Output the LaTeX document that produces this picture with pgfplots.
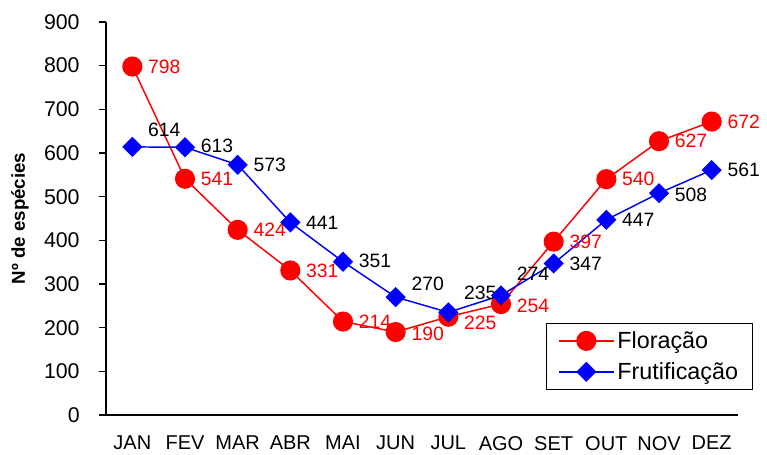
\documentclass[border=0pt]{standalone}
\usepackage{pgfplots}
\usepackage{pgfplotstable}
\usepackage{fontspec}
\setmainfont{Liberation Sans}
\pgfplotsset{compat=1.18}

% x: month index, flor/frut: counts, dflor/dfrut: label nudge (pt)
\pgfplotstableread{
x  flor dflor frut dfrut
1  798  0     614  12.5
2  541  0     613  1
3  424  0     573  0
4  331  0     441  0
5  214  0     351  1
6  190  -1    270  10
7  225  -4.5  235  15
8  254  -1    274  16
9  397  0     347  0
10 540  0     447  0
11 627  0     508  -1
12 672  0     561  0
}\dados

\begin{document}
\begin{tikzpicture}
\begin{axis}[
    name=ax,
    scale only axis,
    width=474pt, height=294.75pt,
    xmin=0.5, xmax=12.5,
    ymin=0, ymax=900,
    ytick={0,100,...,900},
    xtick={1,...,12},
    xticklabels={JAN,FEV,MAR,ABR,MAI,JUN,JUL,AGO,SET,OUT,NOV,DEZ},
    minor xtick={0.5,1.5,...,12.5},
    axis x line*=bottom,
    axis y line*=left,
    axis line style={line width=0.8pt},
    tick align=outside,
    x tick style={draw=none},
    minor x tick style={black, line width=0.8pt},
    minor tick length=4.5pt,
    y tick style={black, line width=0.8pt},
    major tick length=5.25pt,
    /pgf/number format/assume math mode=true,
    yticklabel style={font=\fontsize{16}{18}\selectfont, anchor=east, xshift=-11pt},
    xticklabel style={font=\fontsize{15}{18}\selectfont, yshift=-7pt},
    ylabel={\textbf{Nº de espécies}},
    ylabel style={font=\fontsize{14}{16}\selectfont,
        at={(axis description cs:0,0.5)}, anchor=center, yshift=64.5pt},
    clip=false,
    legend style={
        at={(0.696,0.234)}, anchor=north west,
        draw=black, line width=0.6pt,
        font=\fontsize{17.5}{20}\selectfont,
        inner xsep=9pt, inner ysep=4pt,
        row sep=5pt,
        legend cell align=left,
    },
    legend image code/.code={
        \draw[mark repeat=2, mark phase=2] plot coordinates {(0cm,0cm) (0.72cm,0cm) (1.45cm,0cm)};
    },
]

\addplot[
    red, line width=1.1pt,
    mark=*, mark size=7pt, mark options={solid, fill=red},
    nodes near coords,
    visualization depends on={\thisrow{dflor} \as \dy},
    every node near coord/.append style={
        anchor=west, xshift=8pt, yshift=\dy pt, text=red,
        font=\fontsize{14.5}{16}\selectfont},
] table[x=x, y=flor] {\dados};
\addlegendentry{Floração}

\addplot[
    blue, line width=1.1pt,
    mark=square*, mark size=4.8pt, mark options={solid, fill=blue, rotate=45},
    nodes near coords,
    visualization depends on={\thisrow{dfrut} \as \dy},
    every node near coord/.append style={
        anchor=west, xshift=8pt, yshift=\dy pt, text=black,
        font=\fontsize{14.5}{16}\selectfont},
] table[x=x, y=frut] {\dados};
\addlegendentry{Frutificação}

\end{axis}
\pgfresetboundingbox
\path[use as bounding box] ([xshift=-79.5pt, yshift=-30pt]ax.south west)
    rectangle ([xshift=21.75pt, yshift=16.5pt]ax.north east);
\end{tikzpicture}
\end{document}
